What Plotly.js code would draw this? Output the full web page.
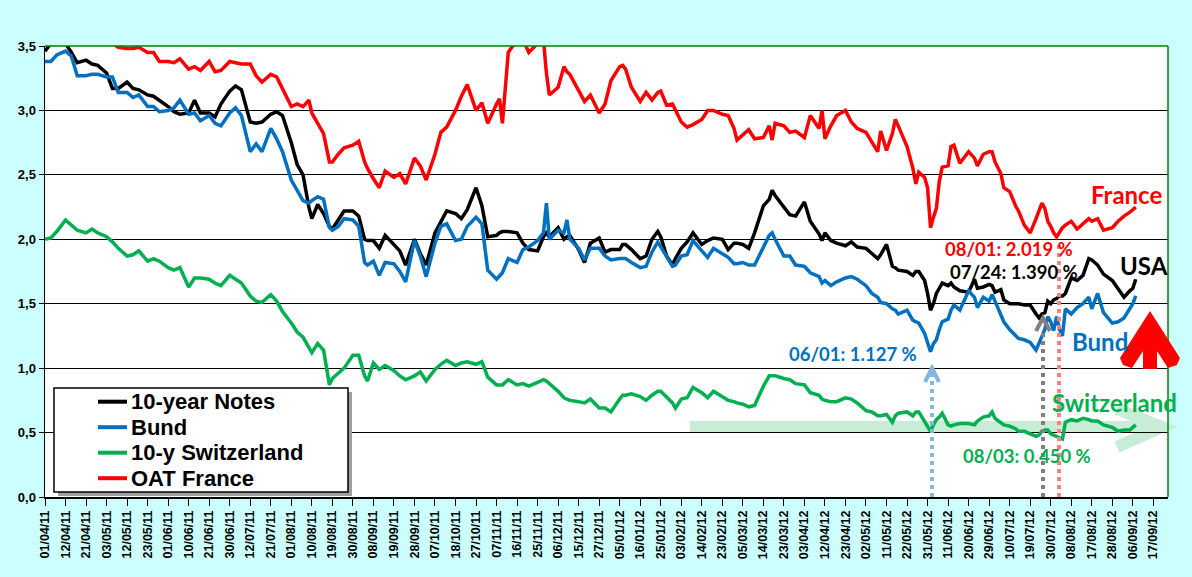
<!DOCTYPE html>
<html>
<head>
<meta charset="utf-8">
<script src="https://cdn.plot.ly/plotly-3.0.1.min.js"></script>
<style>
html,body{margin:0;padding:0;background:#CCFFFF;}
#chart{width:1192px;height:577px;}
</style>
</head>
<body>
<div id="chart"></div>
<script>
// ---------------- DATA ----------------
const seriesNames = ['10-year Notes', 'Bund', '10-y Switzerland', 'OAT France'];

const dates = [
'2011-04-01','2011-04-05','2011-04-07',
'2011-04-12','2011-04-14','2011-04-18',
'2011-04-21','2011-04-26','2011-04-28',
'2011-05-03','2011-05-05','2011-05-09',
'2011-05-12','2011-05-16','2011-05-18',
'2011-05-23','2011-05-25','2011-05-27',
'2011-06-01','2011-06-03','2011-06-07',
'2011-06-10','2011-06-14','2011-06-16',
'2011-06-21','2011-06-23','2011-06-27',
'2011-06-30','2011-07-05','2011-07-07',
'2011-07-12','2011-07-14','2011-07-18',
'2011-07-21','2011-07-25','2011-07-27',
'2011-08-01','2011-08-03','2011-08-05','2011-08-09',
'2011-08-10','2011-08-12','2011-08-16','2011-08-18',
'2011-08-19','2011-08-23','2011-08-25',
'2011-08-30','2011-09-01','2011-09-05','2011-09-06',
'2011-09-08','2011-09-12','2011-09-14',
'2011-09-19','2011-09-21','2011-09-23',
'2011-09-28','2011-09-30','2011-10-04',
'2011-10-07','2011-10-11','2011-10-13',
'2011-10-18','2011-10-20','2011-10-24',
'2011-10-27','2011-10-31','2011-11-02',
'2011-11-07','2011-11-08','2011-11-09','2011-11-11',
'2011-11-16','2011-11-18','2011-11-22',
'2011-11-25','2011-11-29','2011-11-30','2011-12-01',
'2011-12-06','2011-12-08','2011-12-09','2011-12-12',
'2011-12-15','2011-12-19','2011-12-21',
'2011-12-27','2011-12-29','2012-01-02',
'2012-01-05','2012-01-06','2012-01-09','2012-01-11',
'2012-01-16','2012-01-18','2012-01-20','2012-01-24',
'2012-01-25','2012-01-27','2012-01-31','2012-02-01',
'2012-02-03','2012-02-07','2012-02-09',
'2012-02-14','2012-02-16','2012-02-20',
'2012-02-23','2012-02-27','2012-02-29','2012-03-01',
'2012-03-05','2012-03-07','2012-03-09',
'2012-03-14','2012-03-16','2012-03-19','2012-03-20',
'2012-03-23','2012-03-27','2012-03-29',
'2012-04-03','2012-04-05','2012-04-10','2012-04-11',
'2012-04-12','2012-04-16','2012-04-18',
'2012-04-23','2012-04-25','2012-04-27',
'2012-05-02','2012-05-04','2012-05-08',
'2012-05-09','2012-05-11','2012-05-15','2012-05-16','2012-05-17',
'2012-05-22','2012-05-24','2012-05-25','2012-05-28',
'2012-05-30','2012-05-31','2012-06-01','2012-06-04','2012-06-05','2012-06-06','2012-06-07',
'2012-06-11','2012-06-12','2012-06-13','2012-06-15',
'2012-06-20','2012-06-22','2012-06-25','2012-06-27',
'2012-06-29','2012-07-02','2012-07-03','2012-07-05','2012-07-06',
'2012-07-10','2012-07-12','2012-07-13','2012-07-17',
'2012-07-19','2012-07-23','2012-07-24','2012-07-25',
'2012-07-26','2012-07-27','2012-07-30','2012-07-31','2012-08-01','2012-08-02','2012-08-03','2012-08-06',
'2012-08-08','2012-08-10','2012-08-14',
'2012-08-16','2012-08-17','2012-08-21','2012-08-23',
'2012-08-28','2012-08-30','2012-09-03','2012-09-05',
'2012-09-06','2012-09-07'
];

const usNotes = [
3.46,3.52,3.55, 3.52,3.45,3.37, 3.39,3.36,3.35, 3.29,3.17,3.17, 3.22,3.17,3.16,
3.12,3.11,3.08, 3.03,2.99,2.97, 2.98,3.08,2.98, 2.98,2.95,3.05, 3.15,3.19,3.16,
2.91,2.90,2.91, 2.97,2.99,2.96, 2.75,2.58,2.50,2.25, 2.16,2.27,2.20,2.10,
2.08,2.15,2.22, 2.22,2.18,2.00,1.99, 1.99,1.93,2.03, 1.96,1.91,1.80, 2.00,1.89,1.80,
2.05,2.13,2.22, 2.20,2.16,2.23, 2.40,2.26,2.02, 2.03,2.05,2.06,2.06, 2.05,1.97,1.92,
1.91,2.02,2.05,2.02, 2.09,2.00,2.02,2.03, 1.92,1.82,1.97, 2.01,1.90,1.92,
1.92,1.96,1.96,1.92, 1.85,1.87,2.00,2.06, 2.02,1.87,1.80,1.85, 1.93,1.98,2.05,
1.96,1.99,2.01, 2.00,1.92,1.97,1.97, 1.96,1.93,2.05, 2.26,2.31,2.38,2.34,
2.25,2.19,2.18, 2.29,2.14,2.04,1.99, 2.05,1.99,1.97, 1.95,1.98,1.94, 1.93,1.89,1.85,
1.88,1.96,1.79,1.78,1.76, 1.75,1.72,1.75,1.75, 1.68,1.58,1.45,1.50,1.58,1.62,1.66,
1.64,1.66,1.63,1.60, 1.59,1.69,1.62,1.63, 1.65,1.64,1.59,1.61,1.53, 1.50,1.50,1.50,1.49,
1.49,1.42,1.39,1.42, 1.43,1.52,1.50,1.53,1.54,1.56,1.56,1.58, 1.70,1.68,1.72,
1.85,1.84,1.80,1.73, 1.68,1.62,1.55,1.60, 1.62,1.69
];

const bund = [
3.38,3.38,3.43, 3.46,3.42,3.27, 3.27,3.28,3.28, 3.26,3.26,3.14, 3.14,3.10,3.12,
3.03,3.03,2.99, 3.00,3.02,3.08, 2.97,2.98,2.92, 2.96,2.90,2.88, 2.98,3.02,2.96,
2.68,2.74,2.68, 2.86,2.78,2.68, 2.46,2.38,2.30,2.28, 2.30,2.33,2.31,2.09,
2.07,2.10,2.16, 2.15,2.10,1.82,1.80, 1.83,1.72,1.82, 1.81,1.75,1.67, 1.99,1.87,1.71,
1.97,2.10,2.12, 1.99,2.00,2.10, 2.17,2.12,1.76, 1.69,1.72,1.74,1.85, 1.82,1.92,1.94,
1.99,2.05,2.28,2.00, 2.07,2.05,2.15,2.00, 1.93,1.84,1.93, 1.93,1.87,1.84,
1.85,1.85,1.85,1.82, 1.78,1.79,1.90,1.98, 1.94,1.86,1.79,1.80, 1.87,1.88,1.99,
1.91,1.86,1.93, 1.89,1.86,1.81,1.81, 1.82,1.80,1.80, 1.94,2.03,2.05,2.00,
1.87,1.87,1.80, 1.79,1.74,1.71,1.66, 1.68,1.64,1.67, 1.70,1.71,1.69, 1.64,1.58,1.55,
1.51,1.50,1.46,1.45,1.42, 1.45,1.37,1.36,1.35, 1.27,1.20,1.127,1.19,1.22,1.30,1.36,
1.38,1.45,1.49,1.45, 1.60,1.55,1.47,1.55, 1.52,1.57,1.52,1.42,1.36, 1.30,1.25,1.23,1.22,
1.20,1.14,1.19,1.24, 1.30,1.40,1.36,1.29,1.40,1.30,1.25,1.46, 1.42,1.47,1.50,
1.55,1.46,1.58,1.43, 1.35,1.36,1.39,1.46, 1.50,1.56
];

const swiss = [
2.00,2.01,2.06, 2.15,2.11,2.07, 2.05,2.08,2.05, 2.02,1.98,1.93, 1.87,1.88,1.91,
1.83,1.85,1.83, 1.78,1.76,1.78, 1.63,1.70,1.70, 1.69,1.66,1.64, 1.72,1.69,1.66,
1.56,1.52,1.51, 1.57,1.52,1.44, 1.35,1.28,1.24,1.15, 1.12,1.19,1.14,0.87,
0.92,0.96,1.00, 1.10,1.10,0.94,0.90, 1.04,0.99,1.02, 0.98,0.94,0.91, 0.94,0.97,0.90,
0.99,1.03,1.06, 1.02,1.04,1.05, 1.03,1.05,0.93, 0.87,0.87,0.87,0.91, 0.87,0.88,0.86,
0.89,0.91,0.90,0.88, 0.82,0.77,0.76,0.75, 0.74,0.73,0.76, 0.69,0.69,0.66,
0.76,0.79,0.79,0.80, 0.78,0.75,0.79,0.82, 0.82,0.77,0.73,0.69, 0.76,0.77,0.85,
0.81,0.77,0.82, 0.78,0.75,0.74,0.73, 0.72,0.70,0.71, 0.86,0.94,0.94,0.94,
0.92,0.91,0.88, 0.87,0.81,0.79,0.76, 0.75,0.74,0.74, 0.77,0.76,0.73, 0.67,0.66,0.63,
0.63,0.64,0.58,0.63,0.65, 0.66,0.63,0.66,0.66, 0.58,0.54,0.51,0.56,0.60,0.62,0.65,
0.56,0.55,0.56,0.57, 0.57,0.56,0.59,0.62, 0.63,0.66,0.61,0.58,0.56, 0.55,0.53,0.51,0.51,
0.49,0.47,0.48,0.51, 0.52,0.52,0.49,0.48,0.47,0.46,0.45,0.58, 0.60,0.59,0.61,
0.60,0.59,0.59,0.56, 0.54,0.51,0.52,0.52, 0.54,0.56
];

const oatFrance = [
3.62,3.65,3.68, 3.66,3.62,3.60, 3.60,3.58,3.56, 3.55,3.52,3.49, 3.48,3.48,3.49,
3.45,3.45,3.38, 3.38,3.37,3.40, 3.32,3.34,3.31, 3.38,3.30,3.31, 3.38,3.37,3.36,
3.36,3.27,3.22, 3.28,3.26,3.17, 3.03,3.05,3.03,3.08, 2.98,2.90,2.82,2.60,
2.60,2.66,2.71, 2.73,2.76,2.60,2.55, 2.47,2.40,2.53, 2.48,2.51,2.43, 2.63,2.57,2.46,
2.66,2.83,2.87, 3.00,3.11,3.20, 3.00,3.06,2.90, 3.05,3.09,2.90,3.45, 3.55,3.55,3.45,
3.52,3.55,3.29,3.12, 3.18,3.34,3.30,3.28, 3.16,3.07,3.12, 2.98,3.05,3.23,
3.34,3.35,3.32,3.18, 3.07,3.14,3.08,3.14, 3.15,3.04,3.05,3.00, 2.91,2.87,2.89,
2.93,3.00,3.00, 2.97,2.96,2.86,2.77, 2.81,2.85,2.78, 2.79,2.88,2.77,2.90,
2.88,2.83,2.84, 2.79,2.96,2.86,3.00, 2.78,2.88,2.96, 3.00,2.91,2.86, 2.83,2.76,2.68,
2.84,2.69,2.82,2.93,2.88, 2.72,2.55,2.43,2.52, 2.48,2.40,2.09,2.17,2.24,2.45,2.56,
2.57,2.72,2.73,2.59, 2.68,2.63,2.57,2.66, 2.68,2.68,2.60,2.51,2.40, 2.37,2.26,2.22,2.11,
2.05,2.16,2.22,2.28, 2.24,2.14,2.10,2.05,2.019,2.06,2.09,2.11, 2.14,2.08,2.12,
2.16,2.14,2.16,2.07, 2.09,2.14,2.18,2.21, 2.23,2.25
];

const tickLabels = [
'01/04/11','12/04/11','21/04/11','03/05/11','12/05/11','23/05/11','01/06/11','10/06/11',
'21/06/11','30/06/11','12/07/11','21/07/11','01/08/11','10/08/11','19/08/11','30/08/11',
'08/09/11','19/09/11','28/09/11','07/10/11','18/10/11','27/10/11','07/11/11','16/11/11',
'25/11/11','06/12/11','15/12/11','27/12/11','05/01/12','16/01/12','25/01/12','03/02/12',
'14/02/12','23/02/12','05/03/12','14/03/12','23/03/12','03/04/12','12/04/12','23/04/12',
'02/05/12','11/05/12','22/05/12','31/05/12','11/06/12','20/06/12','29/06/12','10/07/12',
'19/07/12','30/07/12','08/08/12','17/08/12','28/08/12','06/09/12','17/09/12'
];
const holidays = ['2011-04-22','2011-07-04','2011-12-26'];

const callouts = ['08/01: 2.019 %','07/24: 1.390 %','06/01: 1.127 %','08/03: 0.450 %'];
const seriesLabels = ['USA','Bund','Switzerland','France'];

// ---------------- STYLE / LAYOUT ----------------
const colors = ['#000000','#0070C0','#00B050','#FF0000'];
const tickVals = tickLabels.map(s => '20' + s.slice(6,8) + '-' + s.slice(3,5) + '-' + s.slice(0,2));

const L = 45, R = 1168, T = 46, B = 497;
const px = X => (X - L) / (R - L);
const py = Y => (B - Y) / (B - T);
const pathPx = (pts, close) => pts.map((p,i) => (i ? 'L' : 'M') + px(p[0]).toFixed(5) + ',' + py(p[1]).toFixed(5)).join(' ') + (close ? ' Z' : '');

const values = [usNotes, bund, swiss, oatFrance];
const traces = values.map((v,i) => ({
  type: 'scatter', mode: 'lines', x: dates, y: v, name: seriesNames[i],
  line: {color: colors[i], width: 3.5}, showlegend: false, hoverinfo: 'skip'
}));

const bandGreen = '#C8ECD6';
const shapes = [
  {type:'rect', xref:'paper', yref:'paper', x0:0, x1:1, y0:0, y1:1, fillcolor:'#FFFFFF', line:{width:0}, layer:'below'},
  {type:'rect', xref:'paper', yref:'paper', x0:px(690), x1:px(1156), y0:py(433), y1:py(421), fillcolor:bandGreen, line:{width:0}, layer:'below'},
  {type:'path', xref:'paper', yref:'paper', path:pathPx([[1117,409],[1162,427],[1117,447]]), line:{color:bandGreen, width:12}, layer:'below'},
  {type:'line', xref:'paper', yref:'paper', x0:0, x1:1, y0:1, y1:1, line:{color:'#008000', width:1.5}},
  {type:'line', xref:'paper', yref:'paper', x0:1, x1:1, y0:0, y1:1, line:{color:'#008000', width:1.5}},
  // legend box with shadow
  {type:'rect', xref:'paper', yref:'paper', x0:px(58), x1:px(352), y0:py(496), y1:py(392), fillcolor:'#A0A0A0', line:{width:0}},
  {type:'rect', xref:'paper', yref:'paper', x0:px(54), x1:px(348), y0:py(492), y1:py(388), fillcolor:'#FFFFFF', line:{color:'#000000', width:1.5}},
  // dotted markers
  {type:'line', xref:'paper', yref:'paper', x0:px(932), x1:px(932), y0:py(497), y1:py(370), line:{color:'#80B8E0', width:4, dash:'dot'}},
  {type:'path', xref:'paper', yref:'paper', path:pathPx([[925,382],[932,368],[939,382]]), line:{color:'#80B8E0', width:4}},
  {type:'line', xref:'paper', yref:'paper', x0:px(1043), x1:px(1043), y0:py(497), y1:py(333), line:{color:'#808080', width:4, dash:'dot'}},
  {type:'path', xref:'paper', yref:'paper', path:pathPx([[1036,331],[1043,318],[1050,331]]), line:{color:'#808080', width:4}},
  {type:'line', xref:'paper', yref:'paper', x0:px(1059), x1:px(1059), y0:py(497), y1:py(243), line:{color:'#FF8080', width:4, dash:'dot'}},
  // red up arrow
  {type:'path', xref:'paper', yref:'paper', fillcolor:'#FF0000', line:{width:0},
   path:pathPx([[1150,311],[1180,358],[1177,365],[1168,368],[1157,351],[1157,369],[1143,369],[1143,351],[1132,368],[1123,365],[1120,358]], true)}
];
seriesNames.forEach((n,i) => {
  const y = 401.7 + 25.5 * i;
  shapes.push({type:'line', xref:'paper', yref:'paper', x0:px(98), x1:px(127), y0:py(y), y1:py(y), line:{color:colors[i], width:4}});
});

const annFont = (size, color, fam) => ({family: fam || 'Lato, "Open Sans", sans-serif', size: size, color: color, weight: 'bold'});
const annotations = [
  {text: seriesLabels[3], x: px(1126), y: py(195), font: annFont(24, colors[3])},
  {text: seriesLabels[0], x: px(1144), y: py(265), font: annFont(24, colors[0])},
  {text: seriesLabels[1], x: px(1100), y: py(341), font: annFont(24, colors[1])},
  {text: seriesLabels[2], x: px(1114), y: py(402), font: annFont(24, colors[2])},
  {text: callouts[0], x: px(1009), y: py(249.5), font: annFont(18.5, colors[3])},
  {text: callouts[1], x: px(1014), y: py(271.5), font: annFont(18.5, colors[0])},
  {text: callouts[2], x: px(853), y: py(353.5), font: annFont(18.5, colors[1])},
  {text: callouts[3], x: px(1027), y: py(456), font: annFont(18.5, colors[2])}
].map(a => Object.assign({xref:'paper', yref:'paper', showarrow:false, xanchor:'center', yanchor:'middle'}, a));
seriesNames.forEach((n,i) => {
  annotations.push({text: n, xref:'paper', yref:'paper', showarrow:false, xanchor:'left', yanchor:'middle',
    x: px(129), y: py(401.7 + 25.5 * i), font: annFont(22, '#000000', '"Liberation Sans", Arial, sans-serif')});
});

const layout = {
  width: 1192, height: 577,
  paper_bgcolor: '#CCFFFF', plot_bgcolor: 'rgba(0,0,0,0)',
  margin: {l: L, r: 1192 - R, t: T, b: 577 - B, pad: 0},
  separators: ', ',
  showlegend: false,
  hovermode: false,
  font: {family: '"Liberation Sans", Arial, sans-serif', color: '#000000'},
  xaxis: {
    type: 'date',
    range: ['2011-04-01', '2012-09-22'],
    rangebreaks: [{bounds: ['sat', 'mon']}, {values: holidays}],
    tickmode: 'array', tickvals: tickVals, ticktext: tickLabels,
    tickangle: -90,
    tickfont: {family: '"Liberation Sans", Arial, sans-serif', size: 12.5, color: '#000000', weight: 'bold'},
    ticks: 'outside', ticklen: 7, tickwidth: 1, tickcolor: '#000000',
    showgrid: false, zeroline: false,
    showline: true, linecolor: '#000000', linewidth: 1.5
  },
  yaxis: {
    range: [0, 3.5], dtick: 0.5, tick0: 0, tickformat: '.1f',
    tickfont: {family: '"Liberation Sans", Arial, sans-serif', size: 13, color: '#000000', weight: 'bold'},
    ticks: 'outside', ticklen: 5, tickwidth: 1, tickcolor: '#000000',
    showgrid: true, gridcolor: '#000000', gridwidth: 1,
    zeroline: false, showline: true, linecolor: '#000000', linewidth: 1.5
  },
  shapes: shapes,
  annotations: annotations
};

Plotly.newPlot('chart', traces, layout, {staticPlot: true, displayModeBar: false});
</script>
</body>
</html>
